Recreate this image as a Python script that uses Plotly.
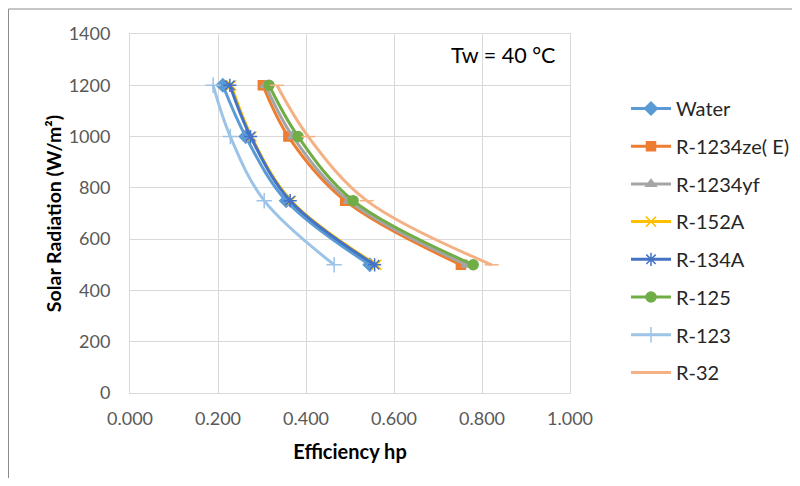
import plotly.graph_objects as go

radiation = [1200, 1000, 750, 500]
series_names = ["Water", "R-1234ze( E)", "R-1234yf", "R-152A", "R-134A", "R-125", "R-123", "R-32"]
eff_water = [0.211, 0.263, 0.355, 0.545]
eff_r1234ze = [0.302, 0.360, 0.489, 0.752]
eff_r1234yf = [0.308, 0.370, 0.497, 0.765]
eff_r152a = [0.230, 0.276, 0.366, 0.560]
eff_r134a = [0.227, 0.274, 0.364, 0.556]
eff_r125 = [0.316, 0.382, 0.507, 0.780]
eff_r123 = [0.189, 0.228, 0.305, 0.464]
eff_r32 = [0.334, 0.405, 0.538, 0.822]
series_values = [eff_water, eff_r1234ze, eff_r1234yf, eff_r152a, eff_r134a, eff_r125, eff_r123, eff_r32]

colors = ["#5B9BD5", "#ED7D31", "#A5A5A5", "#FFC000", "#4472C4", "#70AD47", "#9DC3E6", "#F4B183"]
symbols = ["diamond", "square", "triangle-up", "x-thin-open", "asterisk-open", "circle", "cross-thin-open", "line-ew-open"]
sizes = [10, 9, 9, 10, 11, 10, 11, 10]

FONT = "Lato, 'Noto Sans', sans-serif"

fig = go.Figure()
for i, (name, vals) in enumerate(zip(series_names, series_values)):
    fig.add_trace(go.Scatter(
        x=vals, y=radiation, name=name, mode="lines+markers",
        line=dict(color=colors[i], width=3, shape="spline", smoothing=1.0),
        marker=dict(symbol=symbols[i], size=sizes[i], color=colors[i],
                    line=dict(color=colors[i], width=1.5)),
        legendgroup=name,
    ))

# page has an 8px body margin: figure origin sits at page (8, 8)
OFF = 8
W, H = 784, 470
L, T = 122, 26
pw, ph = 440, 359
R = W - L - pw
B = H - T - ph


def px(xp):
    return (xp - OFF - L) / pw


def py(yp):
    return 1 - (yp - OFF - T) / ph


axis_font = dict(family=FONT, size=18, color="#595959")
fig.update_layout(
    width=W, height=H,
    margin=dict(l=L, r=R, t=T, b=B, pad=0, autoexpand=False),
    paper_bgcolor="white", plot_bgcolor="white",
    showlegend=True,
    legend=dict(x=px(626), y=py(89), xanchor="left", yanchor="top",
                font=dict(family=FONT, size=20, color="#262626"),
                tracegroupgap=8.7, itemwidth=40, bgcolor="rgba(0,0,0,0)"),
    xaxis=dict(range=[0, 1.0], dtick=0.2, tick0=0, tickformat=".3f", automargin=False,
               showgrid=True, gridcolor="#D9D9D9", gridwidth=1,
               showline=True, linecolor="#D9D9D9", mirror=True, zeroline=False,
               ticks="", tickfont=axis_font, ticklabelstandoff=9,
               title=dict(text="<b>Efficiency hp</b>", font=dict(family=FONT, size=20, color="#000000"), standoff=17)),
    yaxis=dict(range=[0, 1400], dtick=200, tick0=0, automargin=False,
               showgrid=True, gridcolor="#D9D9D9", gridwidth=1,
               showline=True, linecolor="#D9D9D9", mirror=True, zeroline=False,
               ticks="", tickfont=axis_font, ticklabelstandoff=15,
               title=dict(text="<b>Solar Radiation (W/m²)</b>", font=dict(family=FONT, size=19.5, color="#000000"), standoff=1)),
)

fig.add_annotation(x=px(557), y=py(55), xref="paper", yref="paper",
                   xanchor="right", yanchor="middle", text="Tw = 40 °C", showarrow=False,
                   font=dict(family=FONT, size=21.5, color="#000000"))

# outer chart border: only its top and left edges are visible in the reference
fig.add_shape(type="rect", xref="paper", yref="paper",
              x0=px(8.5), x1=px(W + 60),
              y0=py(H + 60), y1=py(9),
              line=dict(color="#8C8C8C", width=1), fillcolor="rgba(0,0,0,0)", layer="below")

fig.write_html("out.html")
